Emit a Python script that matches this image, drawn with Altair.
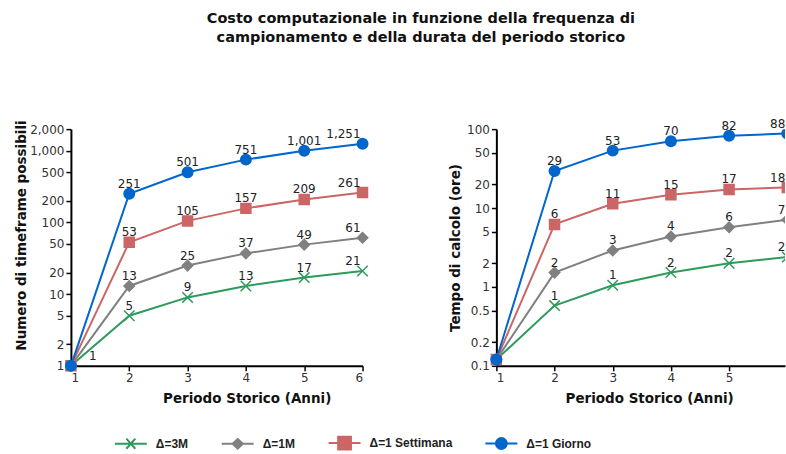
import altair as alt
import pandas as pd

# ---- data ----
anni = [1, 2, 3, 4, 5, 6]
serie = ["Δ=3M", "Δ=1M", "Δ=1 Settimana", "Δ=1 Giorno"]
colori = ["#2E9A5C", "#808080", "#CC6666", "#0066CC"]

timeframe_3m = [1, 5, 9, 13, 17, 21]
timeframe_1m = [1, 13, 25, 37, 49, 61]
timeframe_sett = [1, 53, 105, 157, 209, 261]
timeframe_giorno = [1, 251, 501, 751, 1001, 1251]

ore_3m = [0.12, 0.58, 1.05, 1.52, 2.0, 2.39]
ore_1m = [0.12, 1.52, 2.9, 4.36, 5.7, 7.1]
ore_sett = [0.12, 6.2, 11.3, 14.7, 17.2, 18.2]
ore_giorno = [0.12, 29.4, 53.4, 70.4, 82.4, 88.0]

tick_sx = [1, 2, 5, 10, 20, 50, 100, 200, 500, 1000, 2000]
tick_dx = [0.1, 0.2, 0.5, 1, 2, 5, 10, 20, 50, 100]

titolo = ["Costo computazionale in funzione della frequenza di",
          "campionamento e della durata del periodo storico"]


def tabella(liste):
    rows = []
    for s, vals in zip(serie, liste):
        for a, v in zip(anni, vals):
            rows.append({"anni": a, "valore": v, "serie": s})
    return pd.DataFrame(rows)


df_sx = tabella([timeframe_3m, timeframe_1m, timeframe_sett, timeframe_giorno])
df_dx = tabella([ore_3m, ore_1m, ore_sett, ore_giorno])

X_PATH = "M-1,-1L1,1M-1,1L1,-1"
forme = [X_PATH, "diamond", "square", "circle"]
dimensioni = [110, 110, 100, 110]

sig_shape = (
    "datum.value == 'Δ=3M' ? 'M-1,0L1,0M-0.28,-0.32L0.28,0.32M-0.28,0.32L0.28,-0.32' : "
    "datum.value == 'Δ=1M' ? 'M-1,0L1,0M0,-0.3L0.32,0L0,0.3L-0.32,0Z' : "
    "datum.value == 'Δ=1 Settimana' ? 'M-1,0L1,0M-0.4,-0.4L0.4,-0.4L0.4,0.4L-0.4,0.4Z' : "
    "'M-1,0L1,0M-0.34,0A0.34,0.34,0,1,1,0.34,0A0.34,0.34,0,1,1,-0.34,0Z'"
)

legenda = alt.Legend(
    title=None, orient="none", direction="horizontal",
    legendX=43, legendY=297,
    symbolSize=1024, symbolStrokeWidth=2,
    symbolType=alt.ExprRef(expr=sig_shape),
    symbolFillColor=alt.ExprRef(expr="scale('color', datum.value)"),
    symbolOpacity=1,
    labelFont="Liberation Sans", labelFontSize=12, labelFontWeight="bold",
    labelColor="#222", labelOffset=8, columnPadding=29, padding=0,
)

scala_col = alt.Scale(domain=serie, range=colori)


def pannello(df, ydomain, yticks, yfmt, ytitle, xmax, width, xtitle_x,
             ytitle_y, ytitle_pad, clip_right):
    x = alt.X("anni:Q", scale=alt.Scale(domain=[1, xmax], nice=False, zero=False),
              axis=alt.Axis(values=[1, 2, 3, 4, 5, 6], format="d",
                            title="Periodo Storico (Anni)", titleX=xtitle_x,
                            titlePadding=8))
    yax = dict(values=yticks, format=yfmt, title=ytitle, titlePadding=ytitle_pad)
    if ytitle_y is not None:
        yax["titleY"] = ytitle_y
    y = alt.Y("valore:Q", scale=alt.Scale(type="log", domain=ydomain, nice=False),
              axis=alt.Axis(**yax))
    base = alt.Chart(df).encode(x=x, y=y)

    linee = base.mark_line(strokeWidth=2, clip=clip_right).encode(
        color=alt.Color("serie:N", scale=scala_col, legend=legenda),
        order=alt.Order("anni:Q"),
    )
    layers = [linee]
    for s, c, f, d in zip(serie, colori, forme, dimensioni):
        flt = alt.datum.serie == s
        layers.append(base.mark_point(shape=f, filled=True, fill=c, stroke=c, size=d,
                                      strokeWidth=1.5, opacity=1)
                      .transform_filter(flt).transform_filter("datum.anni < 6"))
        layers.append(base.mark_point(shape=f, filled=True, fill=c, stroke=c, size=d,
                                      strokeWidth=1.5, opacity=1, clip=clip_right)
                      .transform_filter(flt).transform_filter("datum.anni == 6"))
    fmt = ",d" if yfmt == "," else ".0f"
    testo = base.mark_text(font="DejaVu Sans", fontSize=12, color="#222",
                           baseline="alphabetic", dy=-6).encode(
        text=alt.Text("valore:Q", format=fmt)).transform_filter(
        "datum.anni > 1 && datum.anni < 6")
    testo6 = base.mark_text(font="DejaVu Sans", fontSize=12, color="#222",
                            baseline="alphabetic", align="right", dx=-2, dy=-6).encode(
        text=alt.Text("valore:Q", format=fmt)).transform_filter("datum.anni == 6")
    layers += [testo, testo6]
    if yfmt == ",":
        uno = base.mark_text(font="DejaVu Sans", fontSize=12, color="#222",
                             baseline="middle", dx=22, dy=-10).encode(
            text=alt.Text("valore:Q", format=fmt)).transform_filter(
            "datum.anni == 1 && datum.serie == 'Δ=1 Giorno'")
        layers.append(uno)
    return alt.layer(*layers).properties(width=width, height=237)


sx = pannello(df_sx, [1, 2000], tick_sx, ",", "Numero di timeframe possibili",
              6, 292, 176, 106, 1, False)
dx = pannello(df_dx, [0.1, 100], tick_dx, "", "Tempo di calcolo (ore)",
              5.961, 289, 153, None, 4, True)

chart = alt.hconcat(sx, dx, spacing=77).properties(
    title=alt.TitleParams(titolo, font="DejaVu Sans", fontSize=14.5, fontWeight="bold",
                          color="#111", anchor="middle", dx=21, offset=72,
                          lineHeight=19),
    padding={"left": 14, "top": 10, "right": 0, "bottom": 5},
).configure_view(stroke=None).configure_axis(
    grid=False, domainColor="#000", domainWidth=2, tickColor="#000", tickWidth=1.5,
    tickSize=5, labelFont="DejaVu Sans", labelFontSize=12, labelColor="#333",
    labelPadding=2, titleFont="DejaVu Sans", titleFontWeight="bold",
    titleFontSize=13.5, titleColor="#111",
).configure_axisY(labelPadding=2)

chart.save("out.html", embed_options={"renderer": "svg", "actions": False})
